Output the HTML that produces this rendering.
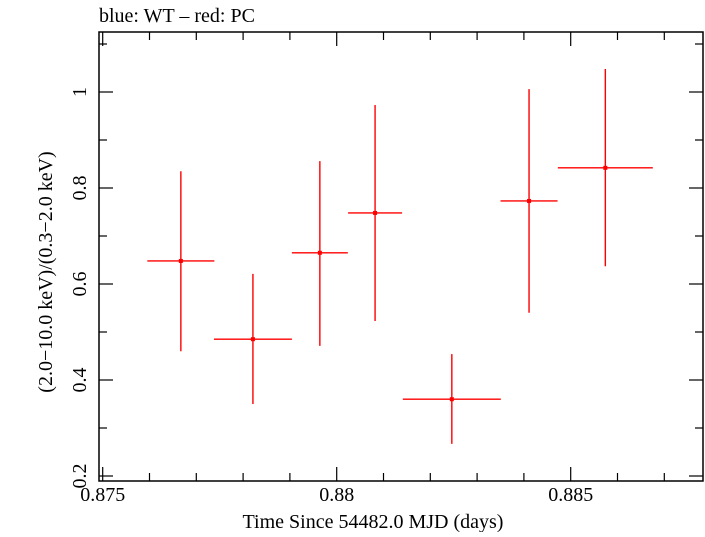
<!DOCTYPE html>
<html><head><meta charset="utf-8"><style>
body{margin:0;background:#fff}
svg text{font-family:"Liberation Serif",serif;fill:#000}
</style></head><body>
<svg width="705" height="532" xmlns="http://www.w3.org/2000/svg">
<text x="99" y="22" font-size="20">blue: WT – red: PC</text>
<rect x="99" y="32" width="604" height="449" fill="none" stroke="#000" stroke-width="1.5"/>
<g id="ticks"></g>
<g id="marks"></g>
<text x="373" y="528" font-size="20" text-anchor="middle">Time Since 54482.0 MJD (days)</text>
<text transform="translate(52,272) rotate(-90)" font-size="20" text-anchor="middle">(2.0−10.0 keV)/(0.3−2.0 keV)</text>
</svg>
<script>
const times=[0.87667,0.87821,0.87964,0.88082,0.88246,0.88411,0.88574];
const timeErr=[0.000716,0.000833,0.000598,0.000577,0.001047,0.000609,0.001015];
const ratios=[0.648,0.485,0.665,0.748,0.360,0.773,0.842];
const ratioHigh=[0.835,0.621,0.856,0.973,0.454,1.006,1.048];
const ratioLow=[0.460,0.350,0.471,0.523,0.267,0.540,0.637];
const xTicks=[0.875,0.88,0.885];
const xTickLabels=["0.875","0.88","0.885"];
const yTicks=[0.2,0.4,0.6,0.8,1.0];
const yTickLabels=["0.2","0.4","0.6","0.8","1"];
const NS="http://www.w3.org/2000/svg";
const X=t=>102.7+(t-0.875)/0.001*46.8;
const Y=v=>92+(1-v)*480;
const L=99,R=703,T=32,B=481;
function mk(tag,attrs,parent){const e=document.createElementNS(NS,tag);for(const k in attrs)e.setAttribute(k,attrs[k]);parent.appendChild(e);return e;}
const tg=document.getElementById('ticks');
for(let i=0;i<=13;i++){const t=0.875+i*0.001;const x=X(t);if(x>R)break;const major=i%5===0;const len=major?14:8;
 let a=mk('line',{x1:x,x2:x,y1:B,y2:B-len,stroke:'#000','stroke-width':1.2},tg);
 
 
 let b=mk('line',{x1:x,x2:x,y1:T,y2:T+len,stroke:'#000','stroke-width':1.2},tg);
 
 }
xTicks.forEach((t,i)=>{const e=mk('text',{x:X(t),y:501,'font-size':20,'text-anchor':'middle'},tg);e.textContent=xTickLabels[i];
 
 });
for(let i=0;i<=9;i++){const v=0.2+i*0.1;const y=Y(v);if(y<T)break;const major=i%2===0;const len=major?14:8;
 let a=mk('line',{x1:L,x2:L+len,y1:y,y2:y,stroke:'#000','stroke-width':1.2},tg);
 
 
 let b=mk('line',{x1:R,x2:R-len,y1:y,y2:y,stroke:'#000','stroke-width':1.2},tg);
 
 }
yTicks.forEach((v,i)=>{const e=mk('text',{transform:`translate(86,${Y(v)}) rotate(-90)`,'font-size':20,'text-anchor':'middle'},tg);e.textContent=yTickLabels[i];
 
 });
const mg=document.getElementById('marks');
times.forEach((t,i)=>{const g=mk('g',{},mg);
 
 
 mk('line',{x1:X(t-timeErr[i]),x2:X(t+timeErr[i]),y1:Y(ratios[i]),y2:Y(ratios[i]),stroke:'#f00','stroke-width':1.4},g);
 mk('line',{x1:X(t),x2:X(t),y1:Y(ratioHigh[i]),y2:Y(ratioLow[i]),stroke:'#f00','stroke-width':1.4},g);
 mk('rect',{x:X(t)-2,y:Y(ratios[i])-2,width:4,height:4,fill:'#f00'},g);});
</script>
</body></html>
